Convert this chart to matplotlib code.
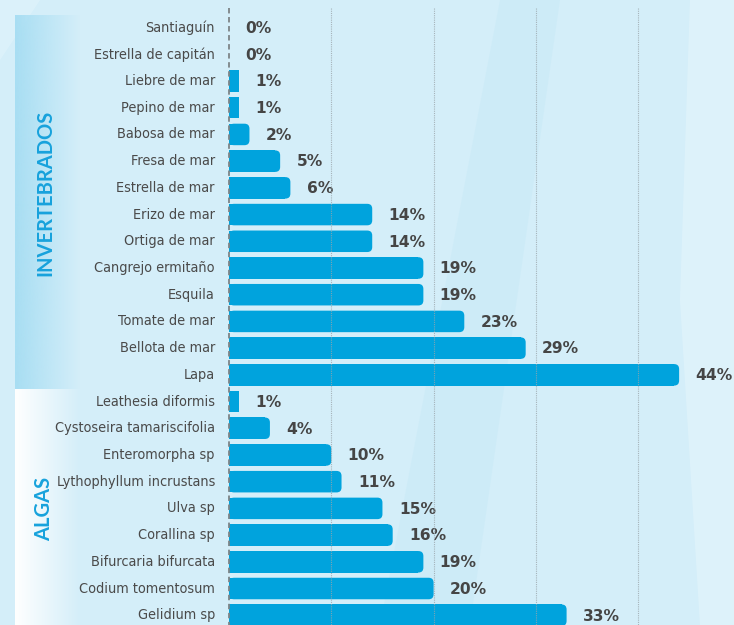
import numpy as np
import matplotlib.pyplot as plt
from matplotlib.patches import FancyBboxPatch, Rectangle, Polygon

especies = ["Santiaguín", "Estrella de capitán", "Liebre de mar", "Pepino de mar",
            "Babosa de mar", "Fresa de mar", "Estrella de mar", "Erizo de mar",
            "Ortiga de mar", "Cangrejo ermitaño", "Esquila", "Tomate de mar",
            "Bellota de mar", "Lapa",
            "Leathesia diformis", "Cystoseira tamariscifolia", "Enteromorpha sp",
            "Lythophyllum incrustans", "Ulva sp", "Corallina sp",
            "Bifurcaria bifurcata", "Codium tomentosum", "Gelidium sp"]
valores = [0, 0, 1, 1, 2, 5, 6, 14, 14, 19, 19, 23, 29, 44,
           1, 4, 10, 11, 15, 16, 19, 20, 33]
grupos = ["INVERTEBRADOS", "ALGAS"]
n_grupo = [14, 9]
grid_ticks = [10, 20, 30, 40]

W, H = 734, 625
px_x = 10.23      # pixels per percent
px_y = 26.71      # pixels per row
x0_px = 229
y0_px = 27.6

BG = "#d4eef9"
BAR = "#00a3dd"
TXT = "#4a4a4a"
BLUE_TXT = "#17a2dc"

fig = plt.figure(figsize=(W / 100, H / 100), dpi=100)
fig.patch.set_facecolor(BG)

# background decorations in pixel coordinates
bg = fig.add_axes([0, 0, 1, 1])
bg.axis("off")
bg.set_facecolor(BG)
bg.add_patch(Polygon([[500, 0], [560, 0], [470, 625], [380, 625]], closed=True,
                     color="#c9eaf7", alpha=0.6, lw=0))
bg.add_patch(Polygon([[690, 0], [734, 0], [734, 625], [700, 625], [680, 300]], closed=True,
                     color="#e2f4fb", alpha=0.7, lw=0))
bg.add_patch(Polygon([[0, 0], [40, 0], [0, 60]], closed=True,
                     color="#def3fb", alpha=0.8, lw=0))

# side bands with gradients
y_split = y0_px + (n_grupo[0] - 0.5) * px_y + 1
grad = np.linspace(1, 0, 256).reshape(1, -1)
band1 = np.zeros((1, 256, 4))
band1[..., :3] = np.array([0xa8, 0xde, 0xf3]) / 255
band1[..., 3] = grad
bg.imshow(band1, extent=[15, 80, y_split, 16], aspect="auto", zorder=1)
band2 = np.ones((1, 256, 4))
band2[..., 3] = grad
bg.imshow(band2, extent=[15, 80, H, y_split], aspect="auto", zorder=1)
bg.set_xlim(0, W)
bg.set_ylim(H, 0)

bg.text(45, (16 + y_split) / 2 - 10, grupos[0], rotation=90, ha="center", va="center",
        color=BLUE_TXT, fontsize=14.5, fontweight="bold", family="Lato")
bg.text(44, (y_split + H) / 2 + 2, grupos[1], rotation=90, ha="center", va="center",
        color=BLUE_TXT, fontsize=14.5, fontweight="bold", family="Lato")

# main chart
ax = fig.add_axes([0, 0, 1, 1])
ax.patch.set_alpha(0)
ax.axis("off")
ax.set_xlim(-x0_px / px_x, (W - x0_px) / px_x)
ax.set_ylim((H - y0_px) / px_y, -y0_px / px_y)

y_top = (8 - y0_px) / px_y
y_bot = (H - y0_px) / px_y
h = 0.805
r = 5 / px_x
asp = px_x / px_y

for i, v in enumerate(valores):
    if v > 0:
        if v * px_x > 12:
            ax.add_patch(Rectangle((0, i - h / 2), v - r, h, color=BAR, lw=0, zorder=2))
            ax.add_patch(FancyBboxPatch((0, i - h / 2), v, h,
                                        boxstyle=f"round,pad=0,rounding_size={r}",
                                        mutation_aspect=asp, color=BAR, lw=0, zorder=2))
        else:
            ax.add_patch(Rectangle((0, i - h / 2), v, h, color=BAR, lw=0, zorder=2))
    ax.text(-14 / px_x, i, especies[i], ha="right", va="center", color=TXT, fontsize=10.4,
            family="DejaVu Sans", fontstretch="condensed")
    ax.text(v + 1.6, i + 0.03, f"{v}%", ha="left", va="center", color="#454545",
            fontsize=11.2, fontweight="bold", family="DejaVu Sans")

for t in grid_ticks:
    ax.plot([t, t], [y_top, y_bot], color="#9aa5ab", lw=0.8, ls=(0, (1, 1)), zorder=3, alpha=0.8)
ax.plot([0, 0], [y_top, y_bot], color="#7d8488", lw=1.3, ls=(0, (3, 2)), zorder=3)

fig.savefig("out.png", dpi=100, facecolor=BG)
